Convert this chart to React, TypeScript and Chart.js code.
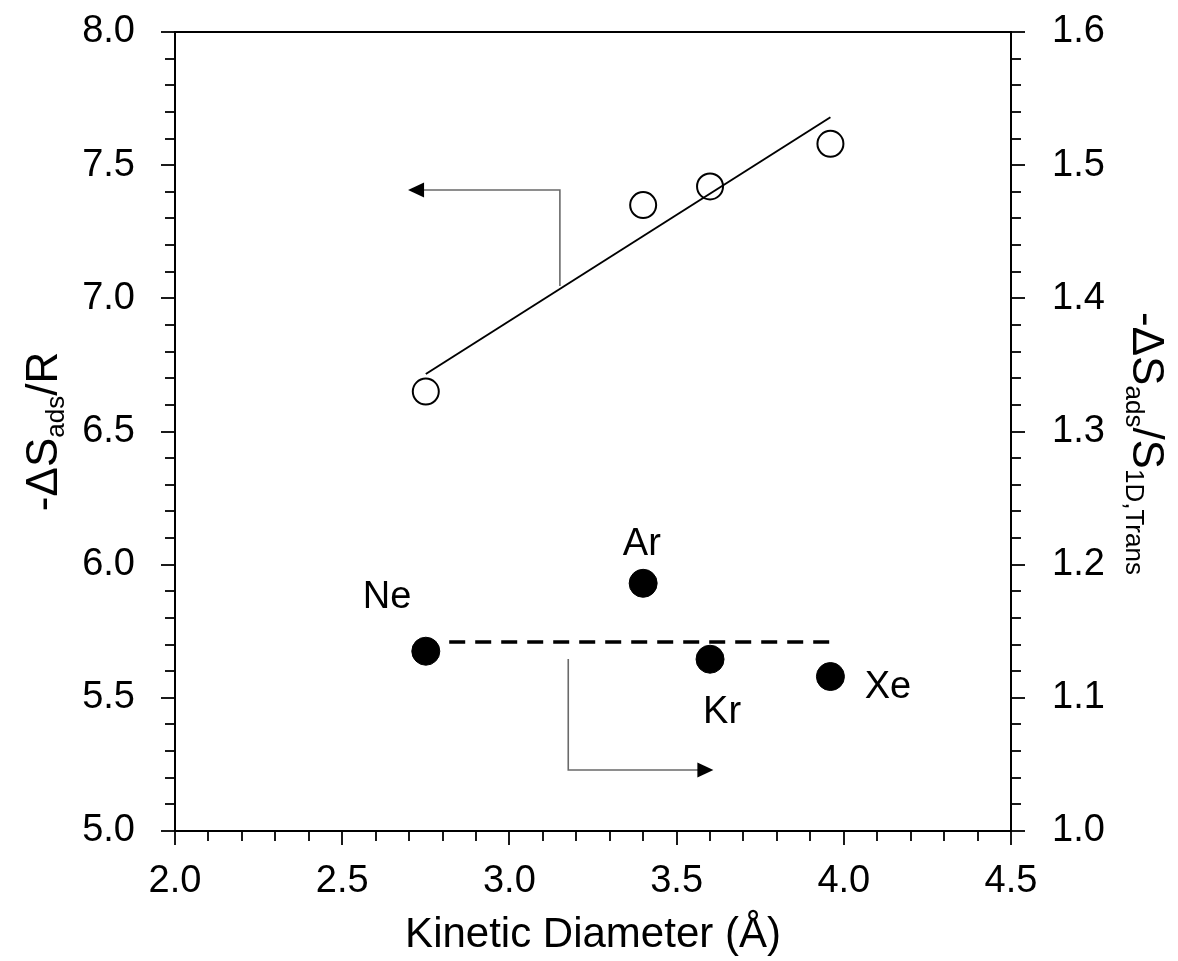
import React, { useEffect, useRef } from "react";
import { Chart, registerables } from "chart.js";

Chart.register(...registerables);

// ---- data ----
const gasNames = ["Ne", "Ar", "Kr", "Xe"];
const kineticDiameter = [2.75, 3.40, 3.60, 3.96];
// open circles, left axis: -ΔS_ads/R
const entropyOverR = [6.65, 7.35, 7.42, 7.58];
// filled circles, right axis: -ΔS_ads/S_1D,Trans
const entropyRatio = [1.135, 1.186, 1.129, 1.116];

// linear fit of the open circles (left axis)
const fitX = [2.75, 3.96];
const fitY = [6.716, 7.68];

// dashed mean line of the filled circles (right axis)
const meanX = [2.82, 3.96];
const meanY = [1.142, 1.142];

// annotation labels for the filled circles (left-axis units)
const labelX = [2.634, 3.396, 3.636, 4.132];
const labelY = [5.875, 6.074, 5.443, 5.537];

// axis-indicator arrows (left-axis units); last point is the arrow tip
const leftArrowX = [3.151, 3.151, 2.697];
const leftArrowY = [7.046, 7.407, 7.407];
const rightArrowX = [3.176, 3.176, 3.61];
const rightArrowY = [5.646, 5.229, 5.229];

// axis ranges / ticks
const xRange = [2.0, 4.5];
const yRange = [5.0, 8.0];
const y2Range = [1.0, 1.6];
const xMinorStep = 0.1;
const xMajorStep = 0.5;
const yMinorStep = 0.1;
const yMajorStep = 0.5;
const y2MinorStep = 0.02;
const y2MajorStep = 0.1;

const xTitle = "Kinetic Diameter (Å)";

const FONT = "'Liberation Sans', Arial, Helvetica, sans-serif";
const W = 1178;
const H = 961;

const isMajor = (v: number, step: number) => Math.abs(v / step - Math.round(v / step)) < 1e-6;

type Part = { t: string; sub?: boolean };

function drawRich(ctx: CanvasRenderingContext2D, parts: Part[], x: number, y: number, angle: number, size: number, subSize: number, subShift: number) {
  ctx.save();
  ctx.translate(x, y);
  ctx.rotate(angle);
  let total = 0;
  const widths = parts.map((p) => {
    ctx.font = `${p.sub ? subSize : size}px ${FONT}`;
    const w = ctx.measureText(p.t).width;
    total += w;
    return w;
  });
  let cx = -total / 2;
  ctx.fillStyle = "#000";
  ctx.textBaseline = "alphabetic";
  ctx.textAlign = "left";
  parts.forEach((p, i) => {
    ctx.font = `${p.sub ? subSize : size}px ${FONT}`;
    ctx.fillText(p.t, cx, p.sub ? subShift : 0);
    cx += widths[i];
  });
  ctx.restore();
}

const decorPlugin = {
  id: "decor",
  afterDatasetsDraw(chart: any) {
    const ctx: CanvasRenderingContext2D = chart.ctx;
    const { x, y, y2 } = chart.scales;
    const area = chart.chartArea;
    ctx.save();
    // top frame line
    ctx.strokeStyle = "#000";
    ctx.lineWidth = 2;
    ctx.beginPath();
    ctx.moveTo(area.left - 1, area.top);
    ctx.lineTo(area.right + 1, area.top);
    ctx.stroke();

    // tick marks
    const drawTicks = (scale: any, major: number, side: "left" | "right" | "bottom") => {
      scale.ticks.forEach((t: any) => {
        const p = Math.round(scale.getPixelForValue(t.value)) + 0.0;
        const len = isMajor(t.value, major) ? 14 : 10;
        ctx.beginPath();
        if (side === "left") {
          ctx.moveTo(area.left, p);
          ctx.lineTo(area.left - len, p);
        } else if (side === "right") {
          ctx.moveTo(area.right, p);
          ctx.lineTo(area.right + len, p);
        } else {
          ctx.moveTo(p, area.bottom);
          ctx.lineTo(p, area.bottom + len);
        }
        ctx.stroke();
      });
    };
    ctx.lineWidth = 1.8;
    drawTicks(y, yMajorStep, "left");
    drawTicks(y2, y2MajorStep, "right");
    drawTicks(x, xMajorStep, "bottom");

    // arrow heads
    const head = (ax: number[], ay: number[]) => {
      const n = ax.length;
      const tx = x.getPixelForValue(ax[n - 1]);
      const ty = y.getPixelForValue(ay[n - 1]);
      const px = x.getPixelForValue(ax[n - 2]);
      const py = y.getPixelForValue(ay[n - 2]);
      const ang = Math.atan2(ty - py, tx - px);
      const L = 16;
      const hw = 7.5;
      ctx.save();
      ctx.translate(tx, ty);
      ctx.rotate(ang);
      ctx.fillStyle = "#000";
      ctx.beginPath();
      ctx.moveTo(0, 0);
      ctx.lineTo(-L, -hw);
      ctx.lineTo(-L, hw);
      ctx.closePath();
      ctx.fill();
      ctx.restore();
    };
    head(leftArrowX, leftArrowY);
    head(rightArrowX, rightArrowY);

    // gas labels
    ctx.fillStyle = "#000";
    ctx.font = `38px ${FONT}`;
    ctx.textAlign = "center";
    ctx.textBaseline = "middle";
    gasNames.forEach((g, i) => {
      ctx.fillText(g, x.getPixelForValue(labelX[i]), y.getPixelForValue(labelY[i]));
    });

    // y titles
    const midY = (area.top + area.bottom) / 2;
    drawRich(ctx, [{ t: "-ΔS" }, { t: "ads", sub: true }, { t: "/R" }], 57, midY, -Math.PI / 2, 44, 26, 7);
    drawRich(
      ctx,
      [{ t: "-ΔS" }, { t: "ads", sub: true }, { t: "/S" }, { t: "1D,Trans", sub: true }],
      1133,
      midY + 12,
      Math.PI / 2,
      44,
      26,
      7
    );
    ctx.restore();
  },
};

const pts = (xs: number[], ys: number[]) => xs.map((v, i) => ({ x: v, y: ys[i] }));

export default function App() {
  const ref = useRef<HTMLCanvasElement | null>(null);
  useEffect(() => {
    if (!ref.current) return;
    const tickFont = { family: FONT, size: 38 };
    const fixV = (wd: number) => (s: any) => {
      s.width = wd;
      s.paddingTop = 0;
      s.paddingBottom = 0;
    };
    const chart = new Chart(ref.current, {
      type: "scatter",
      data: {
        datasets: [
          {
            label: "fit",
            data: pts(fitX, fitY),
            showLine: true,
            borderColor: "#000",
            borderWidth: 2,
            pointRadius: 0,
            yAxisID: "y",
          },
          {
            label: "-ΔS/R",
            data: pts(kineticDiameter, entropyOverR),
            borderColor: "#000",
            backgroundColor: "rgba(0,0,0,0)",
            borderWidth: 2,
            pointRadius: 13,
            yAxisID: "y",
          },
          {
            label: "mean",
            data: pts(meanX, meanY),
            showLine: true,
            borderColor: "#000",
            borderWidth: 3.5,
            borderDash: [16, 10],
            pointRadius: 0,
            yAxisID: "y2",
          },
          {
            label: "ratio",
            data: pts(kineticDiameter, entropyRatio),
            borderColor: "#000",
            backgroundColor: "#000",
            borderWidth: 1,
            pointRadius: 14,
            yAxisID: "y2",
          },
          {
            label: "arrowL",
            data: pts(leftArrowX.slice(0, 2).concat([leftArrowX[2] + 0.03]), leftArrowY),
            showLine: true,
            borderColor: "#6a6a6a",
            borderWidth: 1.6,
            pointRadius: 0,
            yAxisID: "y",
          },
          {
            label: "arrowR",
            data: pts(rightArrowX.slice(0, 2).concat([rightArrowX[2] - 0.03]), rightArrowY),
            showLine: true,
            borderColor: "#6a6a6a",
            borderWidth: 1.6,
            pointRadius: 0,
            yAxisID: "y",
          },
        ],
      },
      options: {
        responsive: false,
        animation: false,
        events: [],
        layout: { padding: { top: 32, left: 0, right: 0, bottom: 0 } },
        plugins: { legend: { display: false }, tooltip: { enabled: false } },
        scales: {
          x: {
            type: "linear",
            position: "bottom",
            min: xRange[0],
            max: xRange[1],
            ticks: {
              stepSize: xMinorStep,
              autoSkip: false,
              maxTicksLimit: 100,
              maxRotation: 0,
              padding: 28,
              color: "#000",
              font: tickFont,
              callback: (v: any) => (isMajor(Number(v), xMajorStep) ? Number(v).toFixed(1) : ""),
            },
            grid: { drawOnChartArea: false, drawTicks: false },
            border: { display: true, color: "#000", width: 2 },
            title: { display: true, text: xTitle, color: "#000", font: { family: FONT, size: 42 }, padding: { top: 0, bottom: 0 } },
            afterFit: (s: any) => {
              s.height = H - 831;
              s.paddingLeft = 0;
              s.paddingRight = 0;
            },
          },
          y: {
            type: "linear",
            position: "left",
            min: yRange[0],
            max: yRange[1],
            ticks: {
              stepSize: yMinorStep,
              autoSkip: false,
              maxTicksLimit: 100,
              padding: 40,
              color: "#000",
              font: tickFont,
              callback: (v: any) => (isMajor(Number(v), yMajorStep) ? Number(v).toFixed(1) : ""),
            },
            grid: { drawOnChartArea: false, drawTicks: false },
            border: { display: true, color: "#000", width: 2 },
            afterFit: fixV(175),
          },
          y2: {
            type: "linear",
            position: "right",
            min: y2Range[0],
            max: y2Range[1],
            ticks: {
              stepSize: y2MinorStep,
              autoSkip: false,
              maxTicksLimit: 100,
              padding: 41,
              color: "#000",
              font: tickFont,
              callback: (v: any) => (isMajor(Number(v), y2MajorStep) ? Number(v).toFixed(1) : ""),
            },
            grid: { drawOnChartArea: false, drawTicks: false },
            border: { display: true, color: "#000", width: 2 },
            afterFit: fixV(W - 1011),
          },
        },
      },
      plugins: [decorPlugin],
    } as any);
    return () => chart.destroy();
  }, []);
  return (
    <div style={{ position: "fixed", left: 0, top: 0, width: W, height: H, background: "#fff" }}>
      <canvas ref={ref} width={W} height={H} style={{ display: "block" }} />
    </div>
  );
}
